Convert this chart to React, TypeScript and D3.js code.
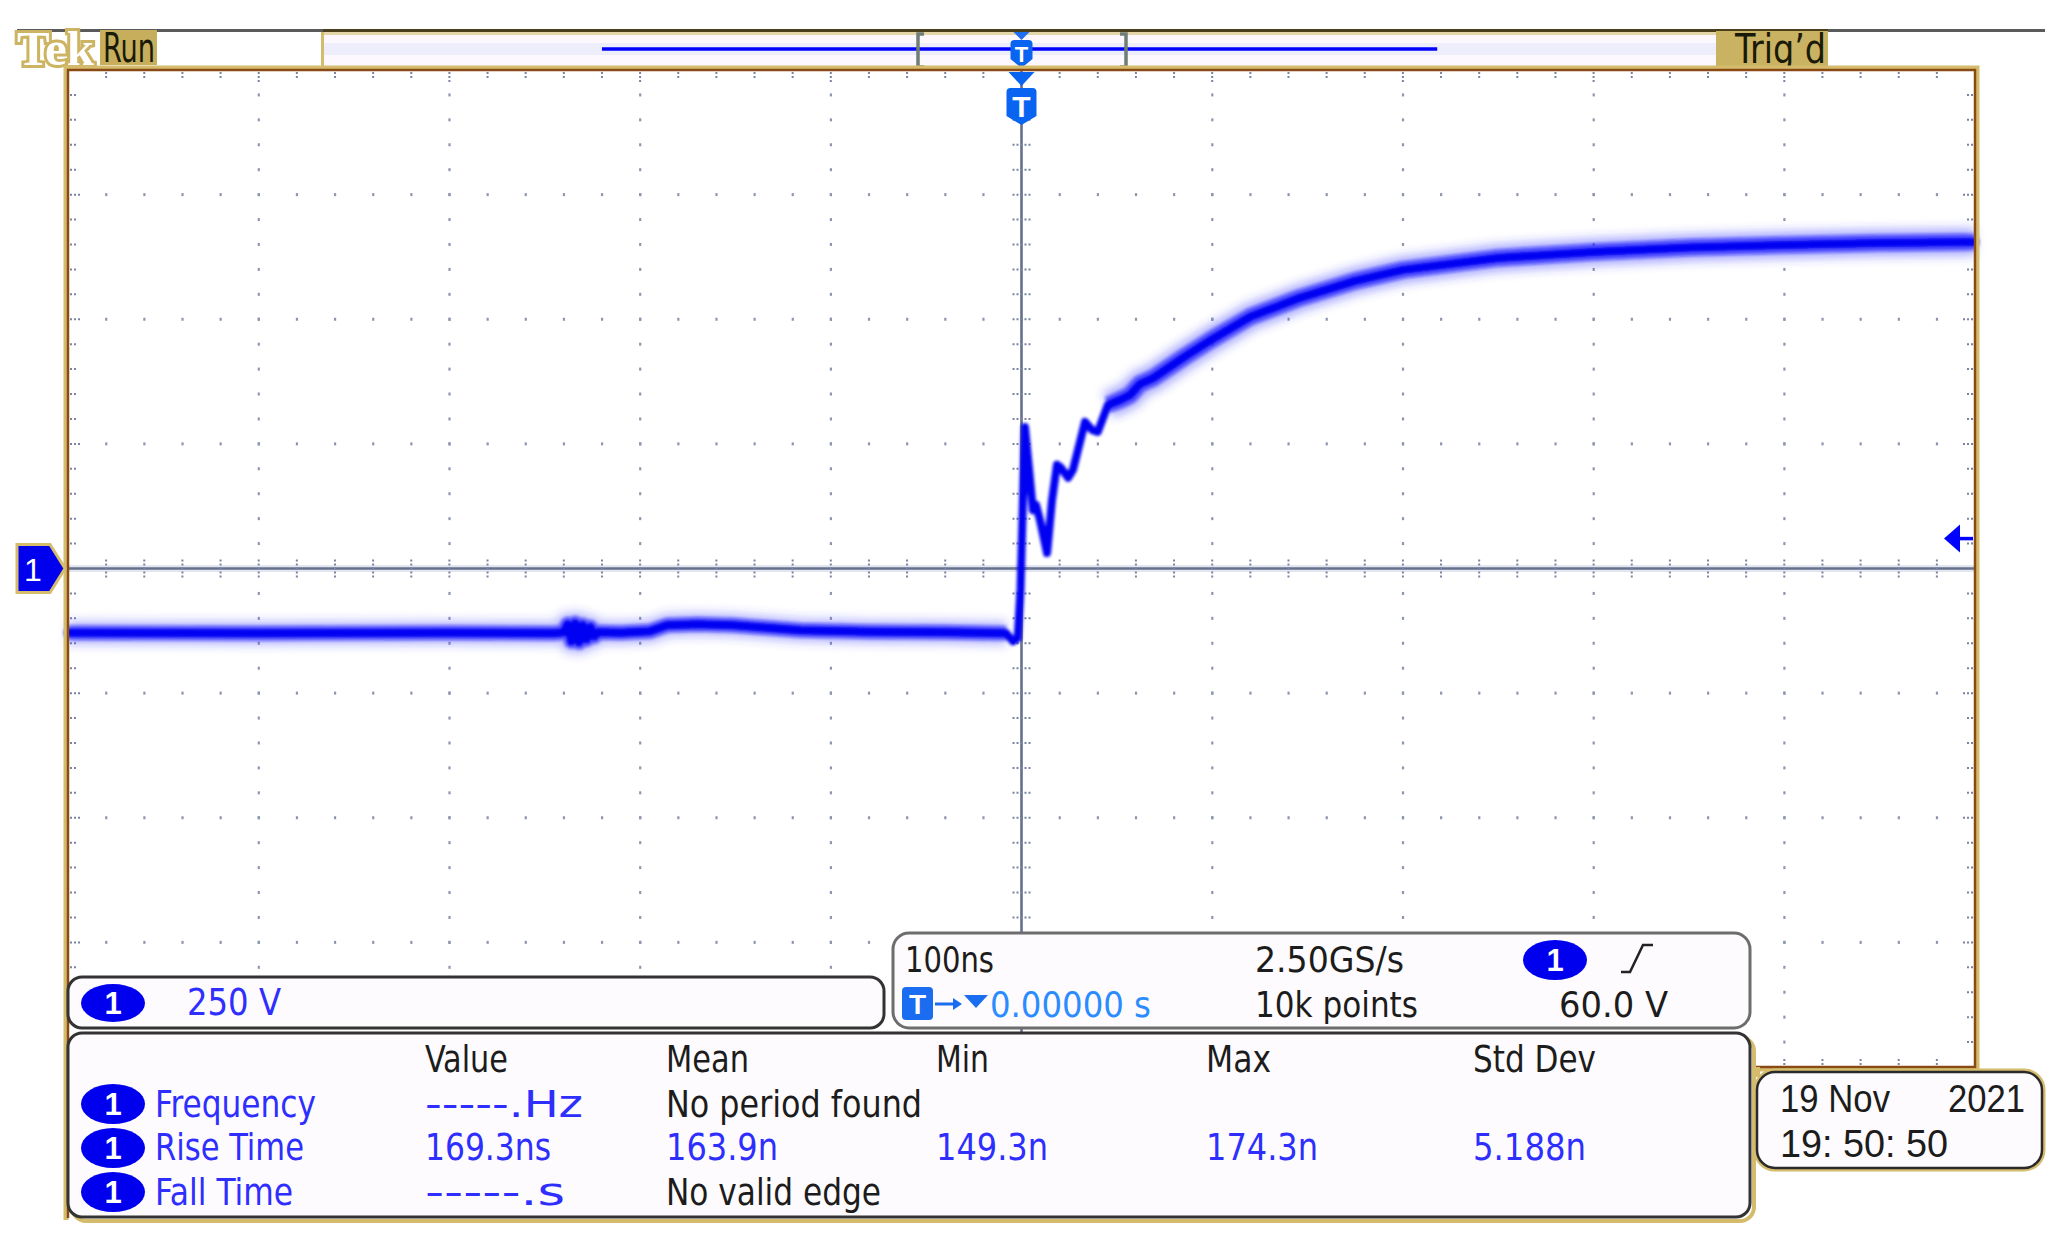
import React from 'react';
import * as d3 from 'd3';

// ---------- data ----------
// time in ns relative to trigger, channel 1 voltage in V
const timeNs = [-500, -400, -300, -245, -240, -238, -236, -234, -232, -230, -228, -226, -224, -222, -210, -195, -186, -170, -151, -130, -116, -80, -40, -8, -4.5, -2, -0.5, 0.5, 1.8, 4, 6, 7.6, 9.7, 13.4, 16, 18.6, 20.7, 24.4, 27, 33.3, 37, 40, 45.3, 51.6, 56.9, 62, 69, 86, 100, 120, 146, 175, 200, 250, 300, 350, 400, 450, 500];
const voltsV = [-129, -130, -129, -130, -128, -112, -146, -110, -148, -114, -142, -118, -136, -128, -129, -126, -114, -112, -114, -120, -124, -127, -128, -130, -146, -140, -40, 100, 284, 198, 117, 128, 97, 31, 137, 208, 202, 182, 198, 294, 278, 274, 328, 338, 348, 370, 382, 426, 460, 505, 543, 577, 599, 623, 635, 644, 649, 653, 655];

const timeDomain = [-500, 500]; // 100 ns/div, 10 div
const voltDomain = [-1000, 1000]; // 250 V/div, 8 div
const triggerLevelV = 60;

const columnHeaders = ['Value', 'Mean', 'Min', 'Max', 'Std Dev'];
const measLabels = ['Frequency', 'Rise Time', 'Fall Time'];
const measValue = ['-----.Hz', '169.3ns', '-----.s'];
const measMean = ['No period found', '163.9n', 'No valid edge'];
const measMin = ['', '149.3n', ''];
const measMax = ['', '174.3n', ''];
const measStd = ['', '5.188n', ''];

const chScale = '250 V';
const timebase = '100ns';
const sampleRate = '2.50GS/s';
const recordLen = '10k points';
const trigPos = '0.00000 s';
const trigLevel = '60.0 V';
const dateLine = ['19 Nov', '2021'];
const timeLine = '19: 50: 50';

// ---------- layout ----------
const W = 2065, H = 1245;
const PX0 = 68, PX1 = 1975, PY0 = 70, PY1 = 1067;
const FONT = "'Liberation Sans Narrow', 'DejaVu Sans Condensed', 'Liberation Sans', sans-serif";
const BLUE = '#0000ee';
const TXTBLUE = '#2e2eff';
const TAN = '#d4bc6c';
const BROWN = '#8a4a14';
const GRID = '#7a84a2';

function Txt({ x, y, w, size = 38, fill = '#1c1c1c', children, family = FONT, weight = 'normal' }: any) {
  return (
    <text x={x} y={y} fontSize={size} fill={fill} fontFamily={family} fontWeight={weight}
      textLength={w} lengthAdjust="spacingAndGlyphs">{children}</text>
  );
}

function Badge({ cx, cy, rx = 32, ry = 20 }: any) {
  return (
    <g>
      <ellipse cx={cx} cy={cy} rx={rx} ry={ry} fill={BLUE} />
      <text x={cx} y={cy + 11} fontSize={31} fill="#fff" fontWeight="bold" fontFamily="'Liberation Sans', sans-serif" textAnchor="middle">1</text>
    </g>
  );
}

export default function App() {
  const x = d3.scaleLinear().domain(timeDomain).range([PX0, PX1]);
  const y = d3.scaleLinear().domain(voltDomain).range([PY1, PY0]);

  const pts = timeNs.map((t, i) => [t, voltsV[i]] as [number, number]);
  const line = d3.line<[number, number]>().x(d => x(d[0])).y(d => y(d[1]));
  const pre = pts.filter(p => p[0] <= -8);
  const post = pts.filter(p => p[0] >= 45);

  const majorT = d3.range(-400, 401, 100).filter(t => t !== 0);
  const majorV = d3.range(-750, 751, 250).filter(v => v !== 0);
  const minorT = d3.range(-480, 481, 20);
  const minorV = d3.range(-950, 951, 50);

  const dots: React.ReactElement[] = [];
  majorT.forEach(t => minorV.forEach(v => dots.push(<rect key={`a${t}_${v}`} x={x(t) - 1} y={y(v) - 1.5} width={2.2} height={3} fill={GRID} />)));
  majorV.forEach(v => minorT.forEach(t => dots.push(<rect key={`b${t}_${v}`} x={x(t) - 1} y={y(v) - 1.5} width={2.2} height={3} fill={GRID} />)));

  const cx0 = x(0), cy0 = y(0);
  const ty = y(triggerLevelV);

  const shield = (cx: number, top: number, w: number, h: number) =>
    `M${cx - w / 2 + 4},${top} L${cx + w / 2 - 4},${top} Q${cx + w / 2},${top} ${cx + w / 2},${top + 4} L${cx + w / 2},${top + h - 9} L${cx},${top + h} L${cx - w / 2},${top + h - 9} L${cx - w / 2},${top + 4} Q${cx - w / 2},${top} ${cx - w / 2 + 4},${top} Z`;

  return (
    <svg width={W} height={H} style={{ position: 'absolute', left: 0, top: 0, background: '#fff' }}>
      <defs>
        <filter id="glow" x="-5%" y="-20%" width="110%" height="140%">
          <feGaussianBlur stdDeviation="5" />
        </filter>
        <filter id="soft" x="-5%" y="-20%" width="110%" height="140%">
          <feGaussianBlur stdDeviation="1.6" />
        </filter>
      </defs>
      <rect x={0} y={0} width={W} height={H} fill="#fff" />

      {/* ---- top status bar ---- */}
      <rect x={17} y={29} width={2028} height={3} fill="#5a5a5a" />
      <rect x={323} y={29} width={1505} height={3} fill="#4a3f1c" />
      <rect x={323} y={32} width={1393} height={36} fill="#fdf8fd" />
      <rect x={323} y={43} width={1393} height={12} fill="#eeedfc" />
      <rect x={323} y={32} width={1393} height={3} fill="#e4d6a8" />
      <rect x={321} y={32} width={3} height={37} fill={TAN} />
      <line x1={x(-220)} x2={x(218)} y1={49} y2={49} stroke="#0000ff" strokeWidth={3.5} />
      <path d="M924,34 L918,34 L918,67 L924,67" fill="none" stroke="#6f7d76" strokeWidth={3.5} />
      <path d="M1120,34 L1126,34 L1126,67 L1120,67" fill="none" stroke="#6f7d76" strokeWidth={3.5} />
      <path d={`M${cx0 - 8},32 L${cx0 + 8},32 L${cx0},40 Z`} fill="#1e6ef0" />
      <path d={shield(cx0, 40, 22, 28)} fill="#0a64f2" />
      <text x={cx0} y={62} fontSize={22} fill="#fff" fontFamily="'Liberation Sans', sans-serif" fontWeight="bold" textAnchor="middle">T</text>

      {/* Tek logo + Run */}
      <text x={17} y={65} fontSize={48} fontFamily="'Liberation Serif', serif" fontWeight="bold" fill="#fff" stroke="#cdb463" strokeWidth={6} paintOrder="stroke" textLength={77} lengthAdjust="spacingAndGlyphs">Tek</text>
      <rect x={100} y={30} width={57} height={35} fill="#c7ae5c" />
      <Txt x={103} y={62} w={52} size={40} fill="#1a1a08">Run</Txt>

      {/* Trig'd */}
      <rect x={1716} y={31} width={112} height={37} fill="#c9b262" />
      <Txt x={1735} y={63} w={91} size={40} fill="#1a1a08">Trig’d</Txt>

      {/* ---- graticule ---- */}
      <rect x={PX0} y={PY0} width={PX1 - PX0} height={PY1 - PY0} fill="#fff" />
      <g opacity={0.85}>{dots}</g>
      {minorT.map(t => (
        <g key={`et${t}`}>
          <line x1={x(t)} x2={x(t)} y1={PY0 + 2} y2={PY0 + (t % 100 === 0 ? 14 : 8)} stroke={GRID} strokeWidth={2} strokeDasharray="2,2" />
          <line x1={x(t)} x2={x(t)} y1={PY1 - 2} y2={PY1 - 8} stroke={GRID} strokeWidth={2} strokeDasharray="2,2" />
        </g>
      ))}
      {minorV.map(v => (
        <g key={`ev${v}`}>
          <line x1={PX0 + 2} x2={PX0 + (v % 250 === 0 ? 14 : 9)} y1={y(v)} y2={y(v)} stroke={GRID} strokeWidth={2} strokeDasharray="2,2" />
          <line x1={PX1 - 2} x2={PX1 - (v % 250 === 0 ? 14 : 9)} y1={y(v)} y2={y(v)} stroke={GRID} strokeWidth={2} strokeDasharray="2,2" />
        </g>
      ))}
      {/* center cross with ticks */}
      <line x1={PX0} x2={PX1} y1={cy0} y2={cy0} stroke="#e3e6ee" strokeWidth={7} />
      <line x1={PX0} x2={PX1} y1={cy0} y2={cy0} stroke="#65708e" strokeWidth={2.6} />
      <line x1={cx0} x2={cx0} y1={PY0} y2={PY1} stroke="#65708e" strokeWidth={2.6} />
      {minorT.map(t => <line key={`ct${t}`} x1={x(t)} x2={x(t)} y1={cy0 - 9} y2={cy0 + 9} stroke={GRID} strokeWidth={2} strokeDasharray="2,2" />)}
      {minorV.map(v => <line key={`cv${v}`} x1={cx0 - 9} x2={cx0 + 9} y1={y(v)} y2={y(v)} stroke={GRID} strokeWidth={2} strokeDasharray="2,2" />)}

      {/* ---- waveform (persistence look) ---- */}
      <g fill="none" strokeLinejoin="round" strokeLinecap="butt">
        <g filter="url(#glow)">
          <path d={line(pre) || ''} stroke="#3a3aff" strokeOpacity={0.35} strokeWidth={24} />
          <path d={line(post) || ''} stroke="#3a3aff" strokeOpacity={0.4} strokeWidth={28} />
        </g>
        <g filter="url(#soft)">
          <path d={line(pre) || ''} stroke="#1818ff" strokeOpacity={0.6} strokeWidth={15} />
          <path d={line(post) || ''} stroke="#1818ff" strokeOpacity={0.6} strokeWidth={17} />
          <path d={line(pts) || ''} stroke="#0000f2" strokeWidth={8} strokeLinecap="round" />
        </g>
      </g>

      {/* trigger level arrow */}
      <line x1={1955} x2={1973} y1={ty} y2={ty} stroke="#0000ff" strokeWidth={3.5} />
      <path d={`M1944,${ty} L1960,${ty - 14} L1960,${ty + 14} Z`} fill="#0000ff" />

      {/* trigger position marker below top edge */}
      <path d={`M${cx0 - 13},72 L${cx0 + 13},72 L${cx0},86 Z`} fill="#0a64f2" />
      <path d={shield(cx0, 88, 30, 37)} fill="#0a64f2" />
      <text x={cx0} y={117} fontSize={30} fill="#fff" fontFamily="'Liberation Sans', sans-serif" fontWeight="bold" textAnchor="middle">T</text>

      {/* ---- frame ---- */}
      <path d={`M${PX0 - 2},1220 L${PX0 - 2},${PY0 - 2} L${PX1 + 2},${PY0 - 2} L${PX1 + 2},${PY1 + 2} L1752,${PY1 + 2}`} fill="none" stroke={TAN} strokeWidth={5} />
      <path d={`M${PX0},1218 L${PX0},${PY0} L${PX1},${PY0} L${PX1},${PY1} L1752,${PY1}`} fill="none" stroke={BROWN} strokeWidth={2.5} />

      {/* channel 1 ground marker */}
      <path d={`M17,${cy0 - 24} L50,${cy0 - 24} L65,${cy0} L50,${cy0 + 24} L17,${cy0 + 24} Z`} fill={BLUE} stroke={TAN} strokeWidth={3} />
      <text x={33} y={cy0 + 12} fontSize={32} fill="#fff" fontFamily="'Liberation Sans', sans-serif" textAnchor="middle">1</text>

      {/* ---- timebase box ---- */}
      <rect x={893} y={933} width={857} height={95} rx={16} fill="#fdfbfd" stroke="#6d6d6d" strokeWidth={3} />
      <Txt x={905} y={972} w={89} size={36}>{timebase}</Txt>
      <Txt x={1255} y={972} w={149} size={36}>{sampleRate}</Txt>
      <Badge cx={1555} cy={960} rx={32} ry={20} />
      <path d="M1621,972 L1630,972 L1643,945 L1653,945" fill="none" stroke="#222" strokeWidth={2.5} />
      <rect x={902} y={987} width={31} height={33} rx={4} fill="#1a6cf0" />
      <text x={917.5} y={1014} fontSize={28} fill="#fff" fontFamily="'Liberation Sans', sans-serif" fontWeight="bold" textAnchor="middle">T</text>
      <line x1={935} x2={955} y1={1004} y2={1004} stroke="#1a6cf0" strokeWidth={3} />
      <path d="M962,1004 L953,998 L953,1010 Z" fill="#1a6cf0" />
      <path d="M964,995 L988,995 L976,1008 Z" fill="#1a6cf0" />
      <Txt x={990} y={1017} w={161} size={36} fill="#2a8cff">{trigPos}</Txt>
      <Txt x={1255} y={1017} w={163} size={36}>{recordLen}</Txt>
      <Txt x={1559} y={1017} w={109} size={36}>{trigLevel}</Txt>

      {/* ---- channel scale box ---- */}
      <rect x={68} y={977} width={816} height={51} rx={14} fill="#fdfbfd" stroke="#333" strokeWidth={3} />
      <Badge cx={113} cy={1003} rx={32} ry={19} />
      <Txt x={187} y={1015} w={94} size={37} fill={TXTBLUE}>{chScale}</Txt>

      {/* ---- measurement panel ---- */}
      <rect x={72} y={1037} width={1682} height={184} rx={14} fill="none" stroke={TAN} strokeWidth={4} />
      <rect x={68} y={1033} width={1682} height={184} rx={14} fill="#fdfbfd" stroke="#333" strokeWidth={3} />
      {columnHeaders.map((h, i) => {
        const xs = [425, 666, 936, 1206, 1473];
        const ws = [83, 83, 53, 65, 123];
        return <Txt key={h} x={xs[i]} y={1072} w={ws[i]} size={38}>{h}</Txt>;
      })}
      {measLabels.map((lab, i) => {
        const base = [1117, 1160, 1205][i];
        const cy = [1104, 1148, 1192][i];
        const lw = [161, 149, 138][i];
        const vw = [158, 126, 140][i];
        const mw = [256, 112, 215][i];
        const meanBlue = i === 1;
        return (
          <g key={lab}>
            <Badge cx={113} cy={cy} rx={32} ry={20} />
            <Txt x={155} y={base} w={lw} size={38} fill={TXTBLUE}>{lab}</Txt>
            <Txt x={425} y={base} w={vw} size={38} fill={TXTBLUE}>{measValue[i]}</Txt>
            <Txt x={666} y={base} w={mw} size={38} fill={meanBlue ? TXTBLUE : '#1c1c1c'}>{measMean[i]}</Txt>
            {measMin[i] && <Txt x={936} y={base} w={112} size={38} fill={TXTBLUE}>{measMin[i]}</Txt>}
            {measMax[i] && <Txt x={1206} y={base} w={112} size={38} fill={TXTBLUE}>{measMax[i]}</Txt>}
            {measStd[i] && <Txt x={1473} y={base} w={113} size={38} fill={TXTBLUE}>{measStd[i]}</Txt>}
          </g>
        );
      })}

      {/* ---- date box ---- */}
      <rect x={1752} y={1067} width={8} height={10} fill={TAN} />
      <rect x={1757} y={1072} width={285} height={96} rx={18} fill="#fdfbfd" stroke={TAN} strokeWidth={7} />
      <rect x={1757} y={1072} width={285} height={96} rx={18} fill="#fdfbfd" stroke="#2a2a2a" strokeWidth={2.5} />
      <Txt x={1780} y={1112} w={110} size={38} family="'Liberation Sans', sans-serif">{dateLine[0]}</Txt>
      <Txt x={1948} y={1112} w={77} size={38} family="'Liberation Sans', sans-serif">{dateLine[1]}</Txt>
      <Txt x={1780} y={1157} w={168} size={38} family="'Liberation Sans', sans-serif">{timeLine}</Txt>
    </svg>
  );
}
